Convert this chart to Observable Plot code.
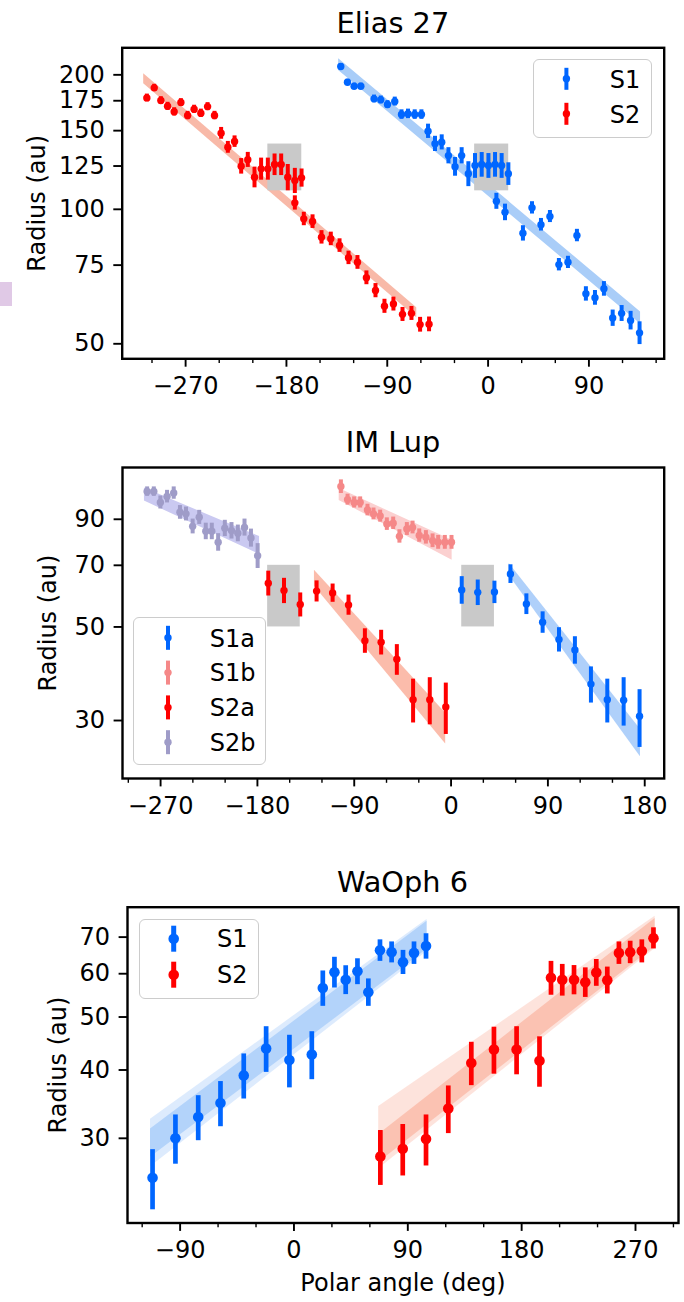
<!DOCTYPE html>
<html><head><meta charset="utf-8">
<script src="https://cdn.jsdelivr.net/npm/d3@7"></script>
<script src="https://cdn.jsdelivr.net/npm/@observablehq/plot@0.6"></script>
<style>
body{margin:0;background:#fff;}
#root{position:relative;width:684px;height:1302px;overflow:hidden;font-family:"DejaVu Sans";background:#fff;}
.title{position:absolute;font-size:28.8px;line-height:28.8px;white-space:nowrap;transform:translateX(-50%);color:#000;}
.panel{position:absolute;left:0;}
.legend{position:absolute;box-sizing:border-box;border:1.8px solid #cccccc;border-radius:6px;background:rgba(255,255,255,0.85);}
.legend svg{position:absolute;left:-1.8px;top:-1.8px;overflow:visible;}
.blot{position:absolute;left:0;top:282px;width:12px;height:24px;background:#e0c9e6;}
</style></head><body><div id="root"></div>
<script>
// ---------- Elias 27 ----------
const eliasS1Theta = [-131.5,-125.5,-119.6,-113.6,-101.8,-95.8,-89.8,-83.3,-77.3,-71.5,-65.5,-59.5,-53.6,-47.4,-41.4,-35.4,-29.5,-23.6,-17.6,-11.7,-5.7,0.3,6.2,12.1,18.1,7.4,15.1,31.1,39.2,47.2,55.2,63.2,71.3,79.3,87.3,95.4,103.4,111.2,119.2,127.2,135.2];
const eliasS1R = [208.7,192.5,188.6,188.6,176.7,175.8,171.6,174.3,163.0,163.6,163.0,163.0,149.6,140.2,141.3,131.9,124.6,131.9,120.1,125.3,126.0,125.3,126.0,125.3,120.1,104.3,98.5,88.4,100.8,92.4,96.4,75.2,76.1,87.4,64.7,63.4,66.4,57.1,58.5,56.4,52.9];
const eliasS1Err = [3.3,3,3,3,3.5,3.5,3.5,4,4,4,4,4,5.5,5.5,5.5,5.5,6,5.5,7.7,8,8,8,8,8,7,4.3,4.2,3.5,3.2,3,3,2.4,2.4,2.8,2.4,2.4,2.5,2.4,2.4,2.7,3.1];
const eliasS2Theta = [-304.6,-298.0,-292.1,-286.1,-280.2,-274.2,-268.2,-262.4,-256.4,-250.4,-244.2,-238.3,-232.3,-226.3,-220.4,-214.5,-208.5,-202.6,-196.6,-190.6,-184.7,-178.8,-172.5,-166.5,-172.5,-164.5,-156.7,-148.7,-140.4,-132.6,-124.6,-116.6,-108.6,-100.5,-92.5,-84.5,-76.4,-68.4,-60.7,-52.7];
const eliasS2R = [177.6,187.0,175.2,170.1,165.3,173.4,162.2,167.5,164.1,169.8,162.2,148.0,137.7,141.8,124.9,129.1,118.0,123.2,123.2,126.0,126.0,118.0,116.0,117.6,103.4,95.2,93.9,86.6,85.9,83.0,77.9,76.1,70.3,65.8,60.7,61.4,58.2,58.5,55.2,55.3];
const eliasS2Err = [3.5,3.5,3.5,3.5,3.5,3.5,3.5,3.5,3.5,3.5,3.5,4.5,4.2,4.2,5,5,6.3,7,7,7,7,8,7.5,5.5,3.8,3.3,3.3,3,3,2.9,2.7,2.7,2.5,2.4,2.2,2.2,2.1,2.1,2.1,2.1];
const eliasFitS1Theta = [-133.4, 136.1], eliasFitS1Lo = [204.6, 55.4], eliasFitS1Hi = [217.4, 58.9];
const eliasFitS2Theta = [-307.4, -63.7], eliasFitS2Lo = [191.0, 57.2], eliasFitS2Hi = [201.1, 60.2];
const eliasBoxX1 = [-196.6, -12], eliasBoxX2 = [-166.3, 18.4], eliasBoxY1 = [110, 110], eliasBoxY2 = [140, 140];
const eliasYTicks = [50, 75, 100, 125, 150, 175, 200];
const eliasXTicks = [-270, -180, -90, 0, 90];
const eliasXMinor = [-300, -240, -210, -150, -120, -60, -30, 30, 60, 120, 150];

// ---------- IM Lup ----------
const imS1aTheta = [9.9,24.8,40.3,55.2,70.0,85.1,100.3,115.1,130.0,145.2,160.4,175.2];
const imS1aR = [61.2,60.4,60.5,66.8,56.7,51.3,46.7,44.1,36.6,33.6,33.5,30.7];
const imS1aErr = [4.6,4.2,3.7,3.4,3.2,3.0,3.1,3.3,3.6,4.0,4.4,4.8];
const imS1bTheta = [-102.4,-96.2,-90.1,-84.5,-77.7,-72.1,-65.9,-59.7,-53.8,-48.0,-41.1,-35.8,-29.6,-23.4,-17.2,-12.0,-5.8,0.4];
const imS1bR = [107.6,100.2,98.7,98.7,94.7,92.7,91.6,87.7,88.1,82.0,85.4,86.1,82.4,81.6,80.1,79.4,79.4,79.4];
const imS1bErr = [4,3,3,3,3,3,3,3,3,3,3,3,3,3,3,3,3,3];
const imS2aTheta = [-169.9,-155.3,-140.2,-125.0,-110.1,-95.3,-80.1,-65.0,-50.4,-35.3,-19.8,-4.9];
const imS2aR = [63.5,61.0,56.5,60.8,60.2,56.4,46.4,46.0,41.9,33.6,33.6,32.3];
const imS2aErr = [4.3,4.2,3.7,3.5,3.0,3.1,3.1,3.1,3.5,4.0,4.3,4.5];
const imS2bTheta = [-282.5,-276.3,-270.2,-264.0,-257.8,-252.0,-246.4,-240.2,-234.1,-228.0,-222.4,-216.5,-210.3,-204.1,-198.2,-192.0,-186.0,-179.8];
const imS2bR = [104.7,104.7,98.7,101.9,103.9,93.5,92.7,86.6,91.0,84.3,84.3,79.4,85.7,84.6,83.4,86.1,81.3,73.8];
const imS2bErr = [2.7,2.7,3.5,3.5,3.5,3.5,3.5,3.5,3.5,3.8,3.8,3.8,3.8,3.8,3.8,4,4,5];
const imFitS1aTheta = [54, 176], imFitS1aLo = [66.2, 24.6], imFitS1aHi = [70.7, 28.6];
const imFitS1bTheta = [-104, 1], imFitS1bLo = [99.7, 72.0], imFitS1bHi = [106.4, 80.3];
const imFitS2aTheta = [-127, -5], imFitS2aLo = [62.4, 26.4], imFitS2aHi = [68.1, 31.2];
const imFitS2bTheta = [-285, -178], imFitS2bLo = [99.4, 74.3], imFitS2bHi = [106.7, 81.9];
const imBoxX1 = [-170.5, 9.9], imBoxX2 = [-140.2, 40.3], imBoxY1 = [50, 50], imBoxY2 = [70, 70];
const imYTicks = [30, 50, 70, 90];
const imXTicks = [-270, -180, -90, 0, 90, 180];
const imXMinor = [-300, -240, -210, -150, -120, -60, -30, 30, 60, 120, 150];

// ---------- WaOph 6 ----------
const waS1Theta = [-111.8,-93.7,-75.7,-58.1,-39.7,-22.0,-3.6,14.1,22.8,32.0,40.9,50.2,58.8,68.0,77.2,86.2,94.9,104.4];
const waS1R = [25.4,30.0,32.8,34.8,39.1,43.8,41.7,42.7,56.5,60.4,58.5,60.6,55.5,66.2,65.7,63.0,65.5,67.4];
const waS1Err = [3.2,3.1,3.1,3.3,3.7,4.2,4.6,4.3,4.2,3.9,3.55,3.3,3.2,3.0,2.9,3.2,3.1,3.6];
const waS2Theta = [68.3,86.0,104.4,122.0,140.2,158.1,176.0,194.1,203.2,212.1,221.4,230.3,239.0,247.7,256.9,265.8,275.0,284.2];
const waS2R = [27.8,28.7,29.9,34.0,41.2,43.6,43.6,41.6,59.0,58.5,58.5,57.9,60.3,58.4,65.5,65.7,66.0,69.7];
const waS2Err = [3.2,3.1,3.2,3.4,3.75,4.3,4.4,4.4,4.2,3.9,3.6,3.6,3.4,3.3,3.1,3.1,3.2,3.1];
const waFitS1Theta = [-113.4, 105.2], waFitS1Lo = [27.7, 66.5], waFitS1Hi = [31.2, 74.8];
const waFitS1OuterLo = [26.6, 65.9], waFitS1OuterHi = [32.5, 75.4];
const waFitS2Theta = [67, 285.5], waFitS2Lo = [27.1, 67.3], waFitS2Hi = [30.5, 75.7];
const waFitS2OuterLo = [26.4, 66.7], waFitS2OuterHi = [34.3, 76.4];
const waYTicks = [30, 40, 50, 60, 70];
const waXTicks = [-90, 0, 90, 180, 270];
const waXMinor = [-120, -60, -30, 30, 60, 120, 150, 210, 240, 300];

// colours
const BLUE = "#0066ff", RED = "#ff0000", PINK = "#f58888", LAV = "#9f9cc8";

const rows = (theta, r, err) => theta.map((t, i) => ({theta: t, r: r[i], lo: r[i] - err[i], hi: r[i] + err[i]}));
const band = (theta, lo, hi) => theta.map((t, i) => ({theta: t, lo: lo[i], hi: hi[i]}));
const boxes = (x1, x2, y1, y2) => x1.map((v, i) => ({x1: v, x2: x2[i], y1: y1[i], y2: y2[i]}));
const fmt = d3.format("d");

function panel(o) {
  const marks = [];
  for (const b of o.bands) marks.push(Plot.areaY(b.data, {x: "theta", y1: "lo", y2: "hi", fill: b.fill, fillOpacity: b.opacity ?? 1}));
  if (o.boxes) marks.push(Plot.rect(o.boxes, {x1: "x1", x2: "x2", y1: "y1", y2: "y2", fill: "#c9c9c9"}));
  for (const s of o.series) {
    marks.push(Plot.ruleX(s.data, {x: "theta", y1: "lo", y2: "hi", stroke: s.color, strokeWidth: o.barW}));
    marks.push(Plot.dot(s.data, {x: "theta", y: "r", r: o.dotR, fill: s.color, stroke: "none"}));
  }
  marks.push(Plot.frame({stroke: "black", strokeWidth: 2.4}));
  marks.push(Plot.axisX({ticks: o.xMinor, tickSize: 4.8, strokeWidth: 1.4, tickFormat: () => "", label: null}));
  marks.push(Plot.axisX({ticks: o.xTicks, tickSize: 8.4, tickPadding: 10, strokeWidth: 1.9, tickFormat: fmt, label: null}));
  marks.push(Plot.axisY({ticks: o.yTicks, tickSize: 8.4, tickPadding: 9, strokeWidth: 1.9, tickFormat: fmt, label: null}));
  marks.push(Plot.text(["Radius (au)"], {frameAnchor: "left", dx: -o.labelOffset, rotate: -90, lineAnchor: "top", textAnchor: "middle"}));
  if (o.xLabel) marks.push(Plot.text([o.xLabel], {frameAnchor: "bottom", dy: o.xLabelDy, lineAnchor: "top", textAnchor: "middle"}));
  return Plot.plot({
    width: 684, height: o.height,
    marginTop: o.mt, marginBottom: o.mb, marginLeft: o.ml, marginRight: o.mr,
    x: {domain: o.xDomain},
    y: {type: "log", domain: o.yDomain},
    style: {fontFamily: "DejaVu Sans", fontSize: "24px", background: "transparent", overflow: "visible", color: "black"},
    marks
  });
}

const root = document.getElementById("root");
function place(node, top) { const d = document.createElement("div"); d.className = "panel"; d.style.top = top + "px"; d.appendChild(node); root.appendChild(d); }
function title(text, cx, top) { const d = document.createElement("div"); d.className = "title"; d.style.left = cx + "px"; d.style.top = top + "px"; d.textContent = text; root.appendChild(d); }
function legend(left, top, w, h, items, gx, tx, barH, barW, dotR) {
  const d = document.createElement("div"); d.className = "legend";
  Object.assign(d.style, {left: left + "px", top: top + "px", width: w + "px", height: h + "px"});
  let s = `<svg width="${w}" height="${h}" font-family="DejaVu Sans" font-size="24">`;
  for (const it of items) {
    s += `<line x1="${gx}" x2="${gx}" y1="${it.y - barH}" y2="${it.y + barH}" stroke="${it.color}" stroke-width="${barW}"/>`;
    s += `<circle cx="${gx}" cy="${it.y}" r="${dotR}" fill="${it.color}"/>`;
    s += `<text x="${tx}" y="${it.y + 8.7}" fill="#000">${it.label}</text>`;
  }
  s += `</svg>`;
  d.innerHTML = s; root.appendChild(d);
}

// Panel 1
place(panel({
  height: 420, mt: 47.3, mb: 61.7, ml: 121.7, mr: 20.3,
  xDomain: [-326.6, 157.2], yDomain: [46.28, 229.9],
  xTicks: eliasXTicks, xMinor: eliasXMinor, yTicks: eliasYTicks,
  bands: [
    {data: band(eliasFitS2Theta, eliasFitS2Lo, eliasFitS2Hi), fill: "#f8b9a8"},
    {data: band(eliasFitS1Theta, eliasFitS1Lo, eliasFitS1Hi), fill: "#a9cdf8"}
  ],
  boxes: boxes(eliasBoxX1, eliasBoxX2, eliasBoxY1, eliasBoxY2),
  series: [{data: rows(eliasS1Theta, eliasS1R, eliasS1Err), color: BLUE}, {data: rows(eliasS2Theta, eliasS2R, eliasS2Err), color: RED}],
  dotR: 3.7, barW: 4, labelOffset: 94
}), 0);

// Panel 2
place(panel({
  height: 420, mt: 47, mb: 62, ml: 122, mr: 20.3,
  xDomain: [-305.4, 198.1], yDomain: [21.86, 119.4],
  xTicks: imXTicks, xMinor: imXMinor, yTicks: imYTicks,
  bands: [
    {data: band(imFitS2bTheta, imFitS2bLo, imFitS2bHi), fill: "#cac9f1"},
    {data: band(imFitS1bTheta, imFitS1bLo, imFitS1bHi), fill: "#fbd0d0"},
    {data: band(imFitS2aTheta, imFitS2aLo, imFitS2aHi), fill: "#fbbcab"},
    {data: band(imFitS1aTheta, imFitS1aLo, imFitS1aHi), fill: "#afd0fa"}
  ],
  boxes: boxes(imBoxX1, imBoxX2, imBoxY1, imBoxY2),
  series: [
    {data: rows(imS2bTheta, imS2bR, imS2bErr), color: LAV},
    {data: rows(imS1bTheta, imS1bR, imS1bErr), color: PINK},
    {data: rows(imS2aTheta, imS2aR, imS2aErr), color: RED},
    {data: rows(imS1aTheta, imS1aR, imS1aErr), color: BLUE}
  ],
  dotR: 3.7, barW: 4, labelOffset: 84
}), 420);

// Panel 3
place(panel({
  height: 442, mt: 46.7, mb: 79.5, ml: 127, mr: 6,
  xDomain: [-131.6, 304], yDomain: [21.0, 79.4],
  xTicks: waXTicks, xMinor: waXMinor, yTicks: waYTicks,
  bands: [
    {data: band(waFitS1Theta, waFitS1OuterLo, waFitS1OuterHi), fill: "#b3d3fa", opacity: 0.45},
    {data: band(waFitS1Theta, waFitS1Lo, waFitS1Hi), fill: "#b3d3fa"},
    {data: band(waFitS2Theta, waFitS2OuterLo, waFitS2OuterHi), fill: "#fbc2b2", opacity: 0.45},
    {data: band(waFitS2Theta, waFitS2Lo, waFitS2Hi), fill: "#fbc2b2"}
  ],
  series: [{data: rows(waS1Theta, waS1R, waS1Err), color: BLUE}, {data: rows(waS2Theta, waS2R, waS2Err), color: RED}],
  dotR: 5.3, barW: 4.7, labelOffset: 79,
  xLabel: "Polar angle (deg)", xLabelDy: 51
}), 860);

title("Elias 27", 392.9, 8.6);
title("IM Lup", 393, 428.2);
title("WaOph 6", 402.5, 867.9);

legend(533.3, 59.3, 119, 79, [{y: 19.8, color: BLUE, label: "S1"}, {y: 54.8, color: RED, label: "S2"}], 33.4, 76.7, 11, 4, 3.7);
legend(133.3, 616.7, 132.4, 148.3, [
  {y: 21.8, color: BLUE, label: "S1a"}, {y: 56.6, color: PINK, label: "S1b"},
  {y: 91.4, color: RED, label: "S2a"}, {y: 126.2, color: LAV, label: "S2b"}], 35, 76.7, 12, 4, 3.7);
legend(139.3, 919.3, 120, 79.7, [{y: 19.7, color: BLUE, label: "S1"}, {y: 55.7, color: RED, label: "S2"}], 34.7, 78, 13, 5, 5.3);

const blot = document.createElement("div"); blot.className = "blot"; root.appendChild(blot);
</script></body></html>
